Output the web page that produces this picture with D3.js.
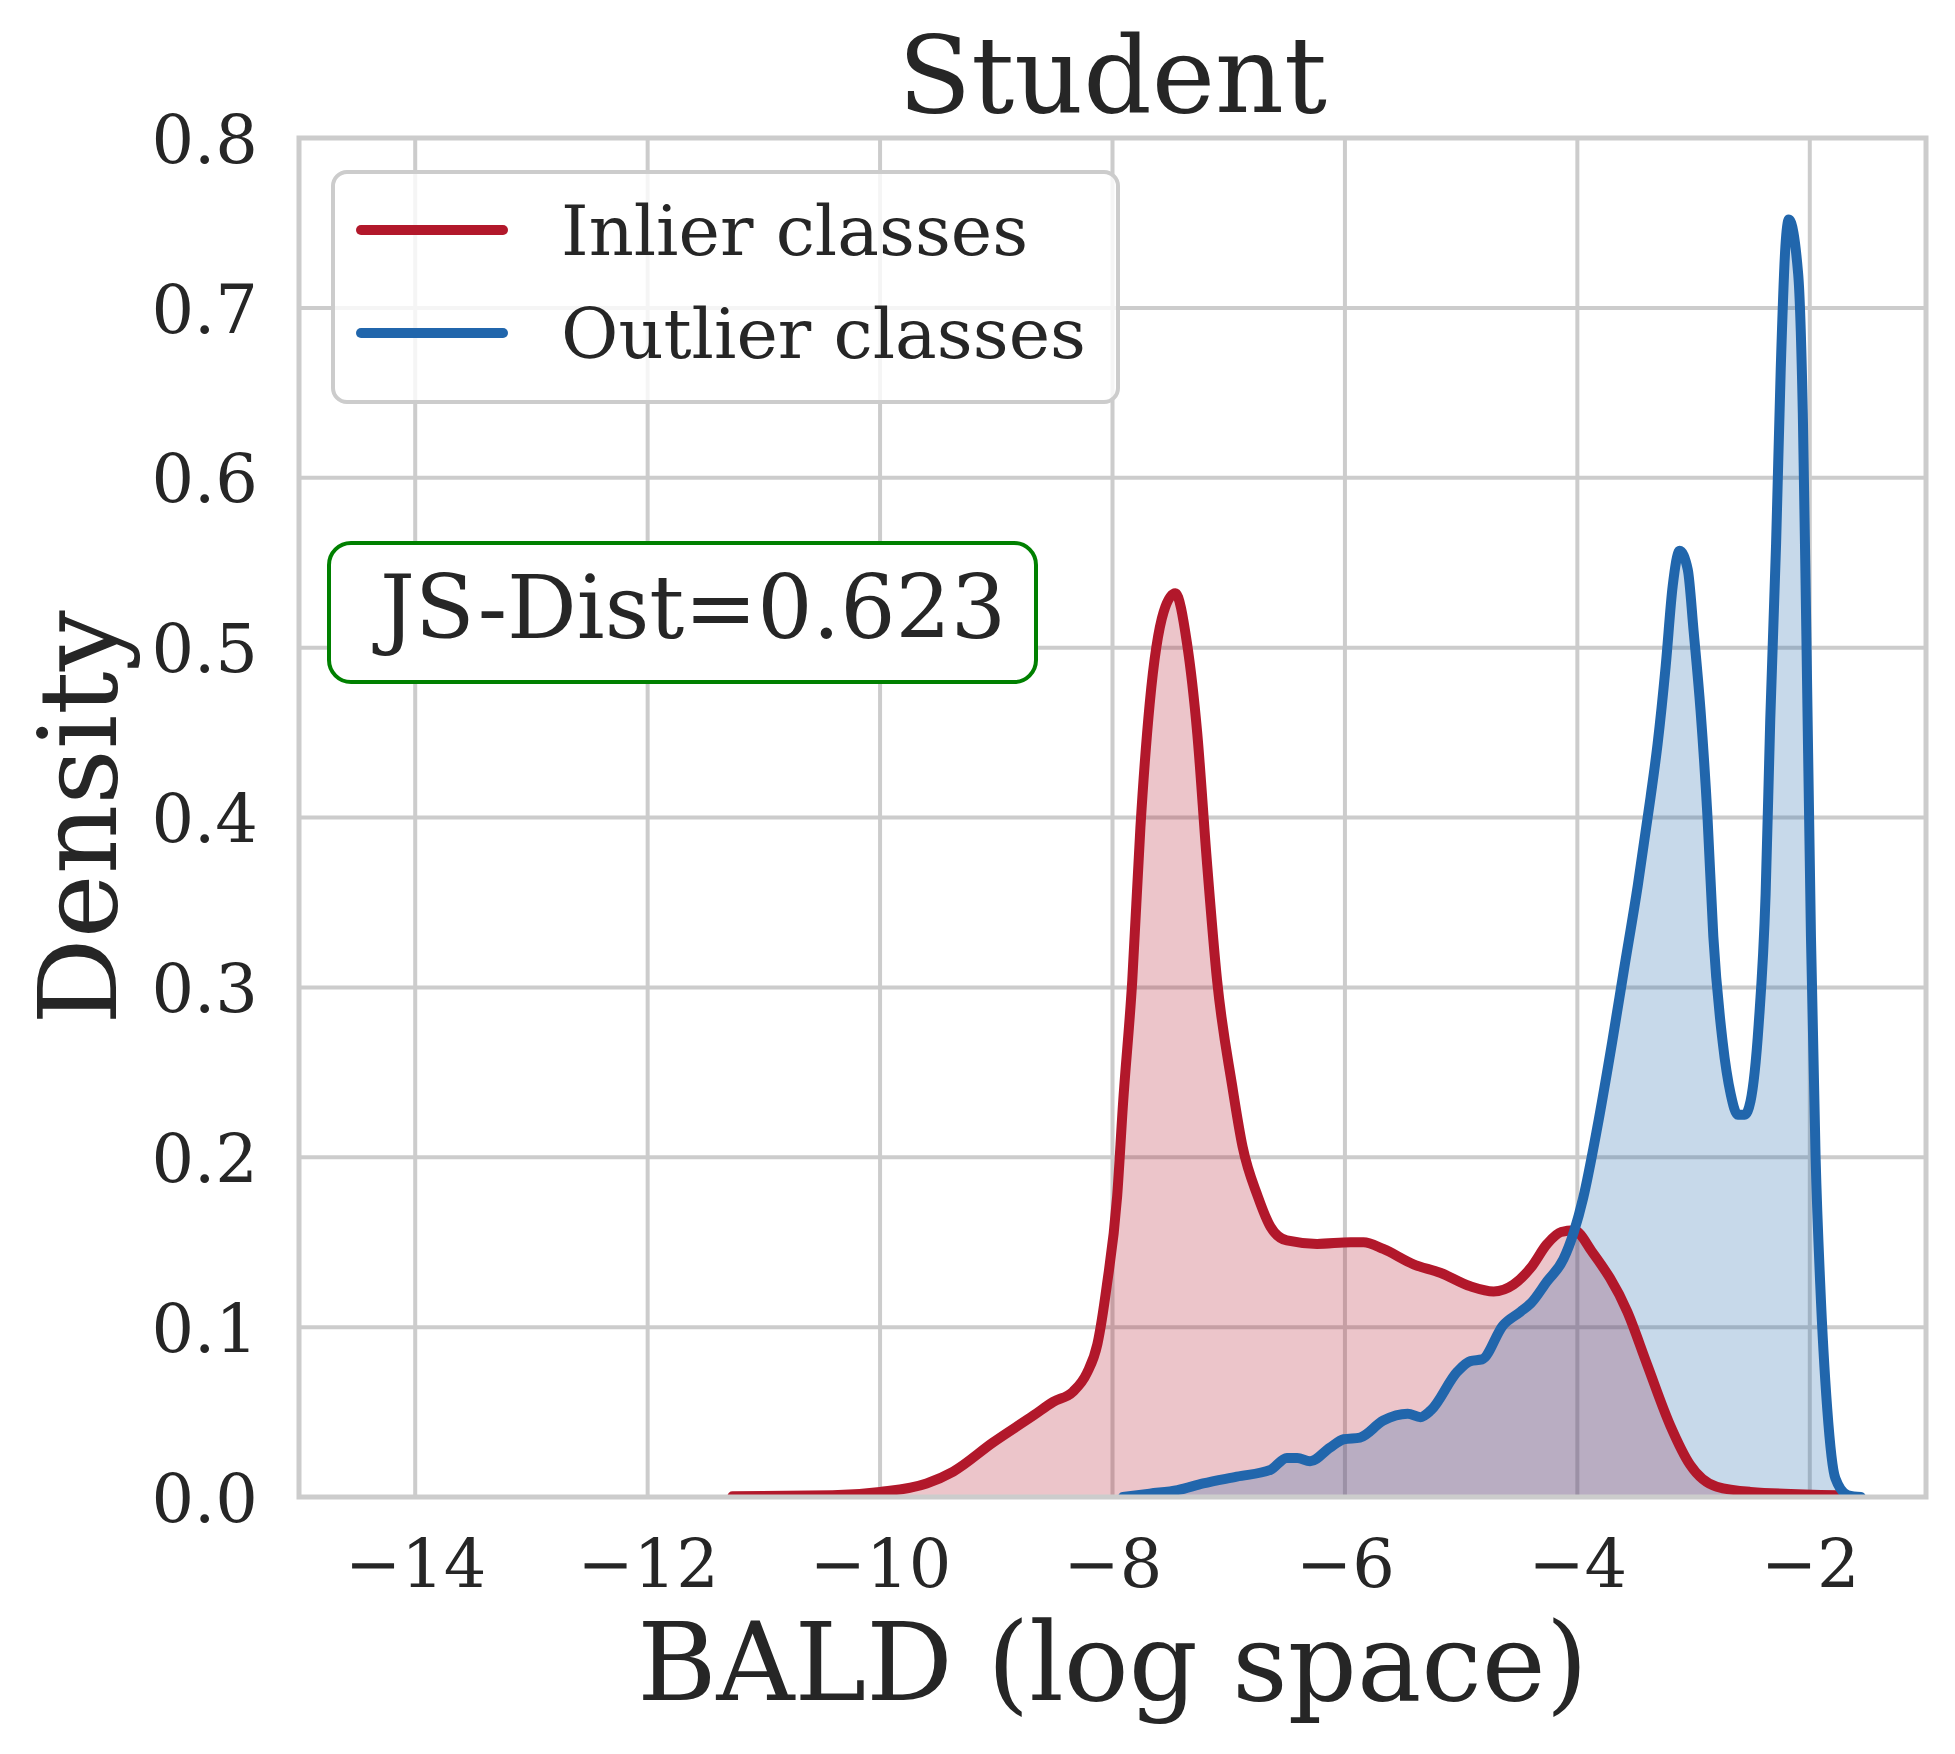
<!DOCTYPE html>
<html>
<head>
<meta charset="utf-8">
<script src="https://cdn.jsdelivr.net/npm/d3@7"></script>
<style>
  body { margin: 0; background: #fff; }
  svg { display: block; }
  text { font-family: "DejaVu Serif", serif; fill: #262626; }
</style>
</head>
<body>
<div id="chart"></div>
<script>
// density curves: [BALD (log), density]
const inlierKde = [
  [-11.27, 0.0005], [-10.41, 0.001], [-10.0, 0.003], [-9.6, 0.008], [-9.37, 0.015],
  [-9.03, 0.032], [-8.68, 0.048], [-8.51, 0.056], [-8.34, 0.062], [-8.22, 0.073],
  [-8.13, 0.09], [-8.05, 0.124], [-7.96, 0.177], [-7.91, 0.231], [-7.83, 0.304],
  [-7.76, 0.394], [-7.68, 0.467], [-7.56, 0.521], [-7.46, 0.532], [-7.36, 0.503],
  [-7.27, 0.449], [-7.19, 0.376], [-7.10, 0.304], [-6.97, 0.242], [-6.88, 0.206],
  [-6.75, 0.177], [-6.64, 0.159], [-6.50, 0.151], [-6.24, 0.149], [-5.95, 0.150],
  [-5.84, 0.150], [-5.67, 0.146], [-5.41, 0.137], [-5.18, 0.132], [-4.92, 0.124],
  [-4.72, 0.121], [-4.55, 0.125], [-4.40, 0.135], [-4.26, 0.149], [-4.14, 0.156],
  [-4.03, 0.157], [-3.87, 0.144], [-3.57, 0.109], [-3.40, 0.078], [-3.20, 0.042],
  [-3.03, 0.019], [-2.80, 0.006], [-2.51, 0.003], [-1.76, 0.001]
];
const outlierKde = [
  [-7.91, 0.0], [-7.68, 0.002], [-7.44, 0.004], [-7.22, 0.008], [-6.93, 0.012],
  [-6.64, 0.016], [-6.50, 0.023], [-6.41, 0.023], [-6.30, 0.021], [-6.13, 0.029],
  [-6.01, 0.034], [-5.87, 0.035], [-5.67, 0.045], [-5.46, 0.049], [-5.35, 0.047],
  [-5.26, 0.051], [-5.03, 0.074], [-4.92, 0.080], [-4.82, 0.081], [-4.64, 0.101],
  [-4.49, 0.109], [-4.40, 0.114], [-4.26, 0.127], [-4.12, 0.140], [-4.03, 0.156],
  [-3.95, 0.176], [-3.83, 0.217], [-3.70, 0.268], [-3.60, 0.310], [-3.48, 0.360],
  [-3.37, 0.412], [-3.31, 0.443], [-3.24, 0.489], [-3.18, 0.536], [-3.12, 0.557],
  [-3.05, 0.546], [-3.00, 0.510], [-2.94, 0.463], [-2.88, 0.400], [-2.83, 0.330],
  [-2.75, 0.268], [-2.68, 0.237], [-2.62, 0.225], [-2.56, 0.225], [-2.51, 0.233],
  [-2.44, 0.278], [-2.38, 0.355], [-2.34, 0.458], [-2.29, 0.561], [-2.25, 0.664],
  [-2.21, 0.736], [-2.18, 0.752], [-2.10, 0.720], [-2.06, 0.638], [-2.03, 0.510],
  [-1.99, 0.330], [-1.95, 0.200], [-1.91, 0.125], [-1.85, 0.052], [-1.78, 0.011],
  [-1.67, 0.001], [-1.56, 0.0]
];
const seriesNames = ["Inlier classes", "Outlier classes"];
const seriesColors = ["#b2182b", "#2166ac"];
const xTicks = [-14, -12, -10, -8, -6, -4, -2];
const yTicks = [0, 0.1, 0.2, 0.3, 0.4, 0.5, 0.6, 0.7, 0.8];
const jsDist = 0.623;

const width = 1955, height = 1754;
const margin = { left: 299, right: 1955 - 1926, top: 138, bottom: 1754 - 1497 };
const curveWidth = 10;

const svg = d3.select("#chart").append("svg")
    .attr("width", width)
    .attr("height", height);

const x = d3.scaleLinear().domain([-15, -1]).range([margin.left, width - margin.right]);
const y = d3.scaleLinear().domain([0, 0.8]).range([height - margin.bottom, margin.top]);

svg.append("defs").append("clipPath").attr("id", "plot")
    .append("rect")
        .attr("x", x.range()[0]).attr("y", y.range()[1])
        .attr("width", x.range()[1] - x.range()[0])
        .attr("height", y.range()[0] - y.range()[1]);

// grid
const grid = svg.append("g").attr("stroke", "#cccccc").attr("stroke-width", 4);
grid.selectAll(".vx").data(xTicks).enter().append("line")
    .attr("x1", d => x(d)).attr("x2", d => x(d))
    .attr("y1", y.range()[0]).attr("y2", y.range()[1]);
grid.selectAll(".hy").data(yTicks).enter().append("line")
    .attr("y1", d => y(d)).attr("y2", d => y(d))
    .attr("x1", x.range()[0]).attr("x2", x.range()[1]);

// filled kde curves: both fills first, then the lines on top
const area = d3.area().curve(d3.curveMonotoneX)
    .x(d => x(d[0])).y0(y(0)).y1(d => y(d[1]));
const line = d3.line().curve(d3.curveMonotoneX)
    .x(d => x(d[0])).y(d => y(d[1]));

const plot = svg.append("g").attr("clip-path", "url(#plot)");
const curves = [inlierKde, outlierKde];
curves.forEach((data, i) => {
    plot.append("path")
        .attr("d", area(data))
        .attr("fill", seriesColors[i])
        .attr("fill-opacity", 0.25);
});
curves.forEach((data, i) => {
    plot.append("path")
        .attr("d", line(data))
        .attr("fill", "none")
        .attr("stroke", seriesColors[i])
        .attr("stroke-width", curveWidth)
        .attr("stroke-linejoin", "round")
        .attr("stroke-linecap", "round");
});

// spines
svg.append("rect")
    .attr("x", x.range()[0]).attr("y", y.range()[1])
    .attr("width", x.range()[1] - x.range()[0])
    .attr("height", y.range()[0] - y.range()[1])
    .attr("fill", "none")
    .attr("stroke", "#cccccc")
    .attr("stroke-width", 5);

// axes
const xAxis = svg.append("g")
    .attr("transform", `translate(0,${y(0)})`)
    .call(d3.axisBottom(x).tickValues(xTicks).tickSize(0).tickPadding(42));
const yAxis = svg.append("g")
    .attr("transform", `translate(${x.range()[0]},0)`)
    .call(d3.axisLeft(y).tickValues(yTicks).tickFormat(d3.format(".1f")).tickSize(0).tickPadding(41));
[xAxis, yAxis].forEach(a => {
    a.select(".domain").remove();
    a.selectAll("text")
        .style("font-family", "'DejaVu Serif', serif")
        .style("font-size", "67px")
        .attr("fill", "#262626");
});
yAxis.selectAll("text").attr("dy", "0.36em");

// titles
svg.append("text")
    .attr("x", (x.range()[0] + x.range()[1]) / 2).attr("y", 112)
    .attr("text-anchor", "middle")
    .style("font-size", "107px")
    .text("Student");
svg.append("text")
    .attr("x", (x.range()[0] + x.range()[1]) / 2).attr("y", 1700)
    .attr("text-anchor", "middle")
    .style("font-size", "108px")
    .text("BALD (log space)");
svg.append("text")
    .attr("transform", `translate(116,${(y.range()[0] + y.range()[1]) / 2}) rotate(-90)`)
    .attr("text-anchor", "middle")
    .style("font-size", "108px")
    .text("Density");

// legend
const legend = svg.append("g");
legend.append("rect")
    .attr("x", 333).attr("y", 172).attr("width", 785).attr("height", 230)
    .attr("rx", 14)
    .attr("fill", "#ffffff").attr("fill-opacity", 0.8)
    .attr("stroke", "#cccccc").attr("stroke-width", 4);
seriesNames.forEach((name, i) => {
    const yy = 230 + i * 103;
    legend.append("line")
        .attr("x1", 361).attr("x2", 503)
        .attr("y1", yy).attr("y2", yy)
        .attr("stroke", seriesColors[i])
        .attr("stroke-width", curveWidth)
        .attr("stroke-linecap", "round");
    legend.append("text")
        .attr("x", 561).attr("y", yy + 25)
        .style("font-size", "70px")
        .text(name);
});

// JS distance box
svg.append("rect")
    .attr("x", 329).attr("y", 543).attr("width", 707).attr("height", 139)
    .attr("rx", 22)
    .attr("fill", "#ffffff")
    .attr("stroke", "#008000").attr("stroke-width", 4);
svg.append("text")
    .attr("x", 380).attr("y", 638)
    .style("font-size", "87px")
    .text(`JS-Dist=${jsDist.toFixed(3)}`);
</script>
</body>
</html>
